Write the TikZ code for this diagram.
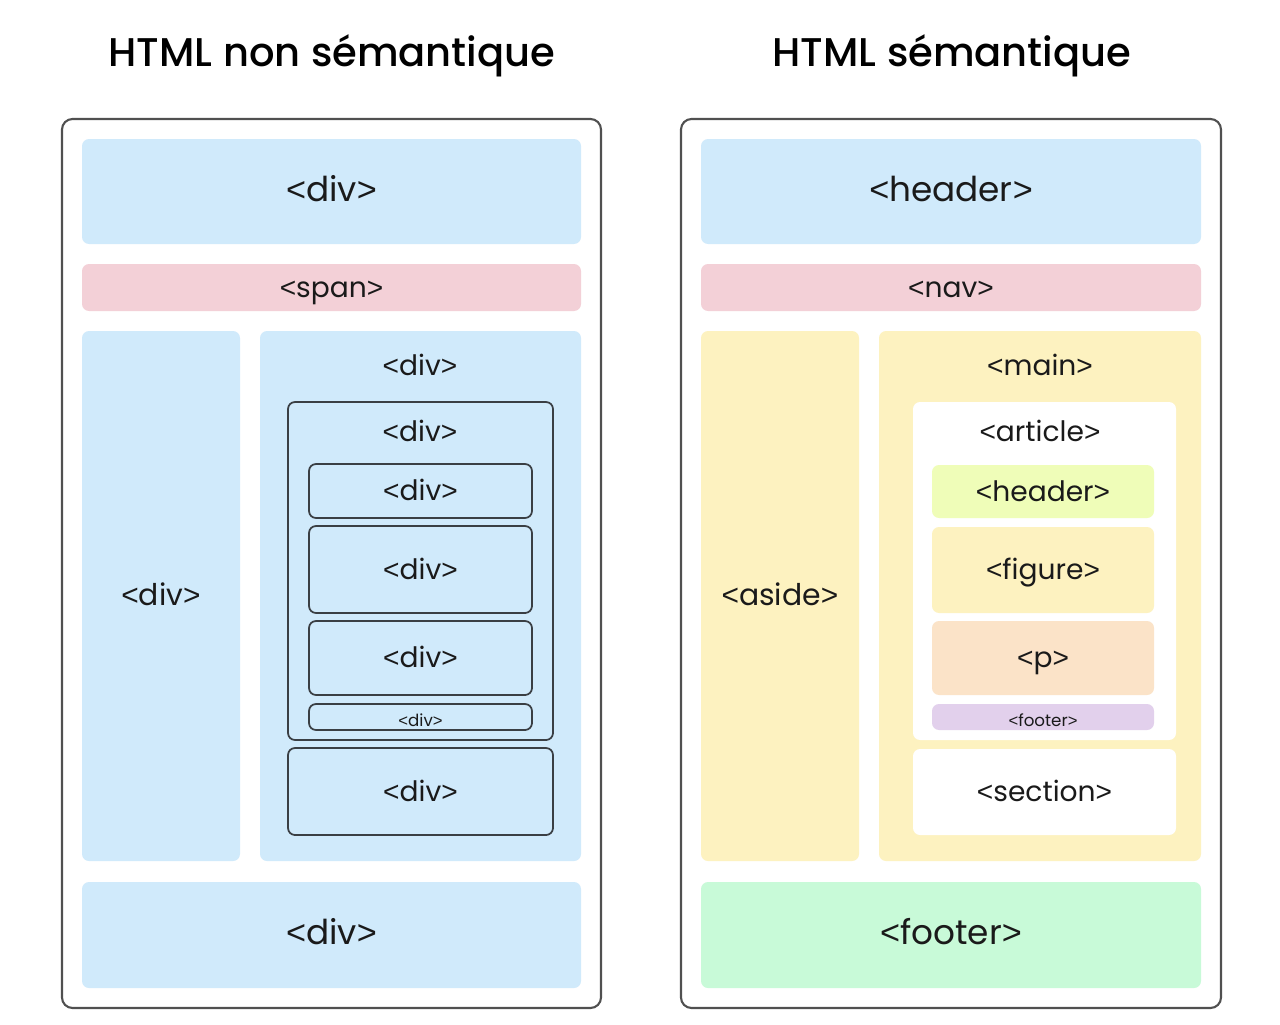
\documentclass[tikz,border=0pt]{standalone}
\usepackage{fontspec}
\setmainfont{Poppins}
\newfontfamily\titlefont{Poppins Medium}
\newfontfamily\chevfont{Liberation Sans}
\newcommand\lt{{\chevfont<}}
\newcommand\gt{{\chevfont>}}
\usetikzlibrary{fit}
\definecolor{cblue}{HTML}{D0EAFB}
\definecolor{cpink}{HTML}{F3D0D7}
\definecolor{cyell}{HTML}{FDF2C0}
\definecolor{cgreen}{HTML}{C8FAD8}
\definecolor{clime}{HTML}{EFFDB8}
\definecolor{cpeach}{HTML}{FBE3C8}
\definecolor{cpurp}{HTML}{E2D0EC}
\definecolor{cline}{HTML}{3A3F44}
\definecolor{cframe}{HTML}{505050}
\definecolor{ctext}{HTML}{1A1A1A}
% \bx{name}{x1}{y1}{x2}{y2}{box style}{label style}{label}
\newcommand\bx[8]{%
  \node[#6, fit={(#2,#3) (#4,#5)}] (#1) {};
  \node[lbl,#7] (#1l) at (#1.center) {#8};}
\newcommand\bxe[6]{\node[#6, fit={(#2,#3) (#4,#5)}] (#1) {};}
\tikzset{
  base/.style={inner sep=0pt, rounded corners=4pt},
  frame/.style={base, draw=cframe, line width=1.2pt, fill=white, rounded corners=6pt},
  blue/.style={base, fill=cblue},
  pink/.style={base, fill=cpink},
  yell/.style={base, fill=cyell},
  green/.style={base, fill=cgreen},
  lime/.style={base, fill=clime},
  peach/.style={base, fill=cpeach},
  purp/.style={base, fill=cpurp},
  wbox/.style={base, fill=white},
  lbox/.style={base, draw=cline, line width=1pt},
  fbig/.style={font=\fontsize{19.5}{22}\selectfont},
  faside/.style={font=\fontsize{17}{20}\selectfont},
  fmed/.style={font=\fontsize{16}{18}\selectfont},
  fsmall/.style={font=\fontsize{9.5}{11}\selectfont},
  lbl/.style={inner sep=0pt, text=ctext, text height=1.1em, text depth=0em},
  ttl/.style={inner sep=0pt, text=black, font=\titlefont\fontsize{22.8}{26}\selectfont}
}
\begin{document}
\begin{tikzpicture}[x=0.02cm, y=-0.02cm]
\useasboundingbox (0,0) rectangle (1280,1024);
% titles
\node[ttl, anchor=base] (t1) at (332,67) {HTML non sémantique};
\node[ttl, anchor=base] (t2) at (952,67) {HTML sémantique};
% ---------- left panel
\bxe{lf}{62}{119}{601}{1008}{frame}
\bx{ldiv1}{82}{139}{581}{244}{blue}{fbig}{\lt div\gt}
\bx{lspan}{82}{264}{581}{311}{pink}{fmed}{\lt span\gt}
\bx{lcol}{82}{331}{240}{861}{blue}{faside}{\lt div\gt}
\bxe{lright}{260}{331}{581}{861}{blue}
\node[lbl,fmed] (lrightl) at (420,366) {\lt div\gt};
\bxe{lcont}{288}{402}{553}{740}{lbox}
\node[lbl,fmed] (lcontl) at (420,432) {\lt div\gt};
\bx{ld1}{309}{464}{532}{518}{lbox}{fmed}{\lt div\gt}
\bx{ld2}{309}{526}{532}{613}{lbox}{fmed}{\lt div\gt}
\bx{ld3}{309}{621}{532}{695}{lbox}{fmed}{\lt div\gt}
\bx{ld4}{309}{704}{532}{730}{lbox}{fsmall}{\lt div\gt}
\bx{ld5}{288}{748}{553}{835}{lbox}{fmed}{\lt div\gt}
\bx{ldiv2}{82}{882}{581}{988}{blue}{fbig}{\lt div\gt}
% ---------- right panel
\bxe{rf}{681}{119}{1221}{1008}{frame}
\bx{rhead}{701}{139}{1201}{244}{blue}{fbig}{\lt header\gt}
\bx{rnav}{701}{264}{1201}{311}{pink}{fmed}{\lt nav\gt}
\bx{raside}{701}{331}{859}{861}{yell}{faside}{\lt aside\gt}
\bxe{rmain}{879}{331}{1201}{861}{yell}
\node[lbl,fmed] (rmainl) at (1040,366) {\lt main\gt};
\bxe{rart}{913}{402}{1176}{740}{wbox}
\node[lbl,fmed] (rartl) at (1040,432) {\lt article\gt};
\bx{rh2}{932}{465}{1154}{518}{lime}{fmed}{\lt header\gt}
\bx{rfig}{932}{527}{1154}{613}{yell}{fmed}{\lt figure\gt}
\bx{rp}{932}{621}{1154}{695}{peach}{fmed}{\lt p\gt}
\bx{rfoot2}{932}{704}{1154}{730}{purp}{fsmall}{\lt footer\gt}
\bx{rsec}{913}{749}{1176}{835}{wbox}{fmed}{\lt section\gt}
\bx{rfoot}{701}{882}{1201}{988}{green}{fbig}{\lt footer\gt}
\end{tikzpicture}
\end{document}
